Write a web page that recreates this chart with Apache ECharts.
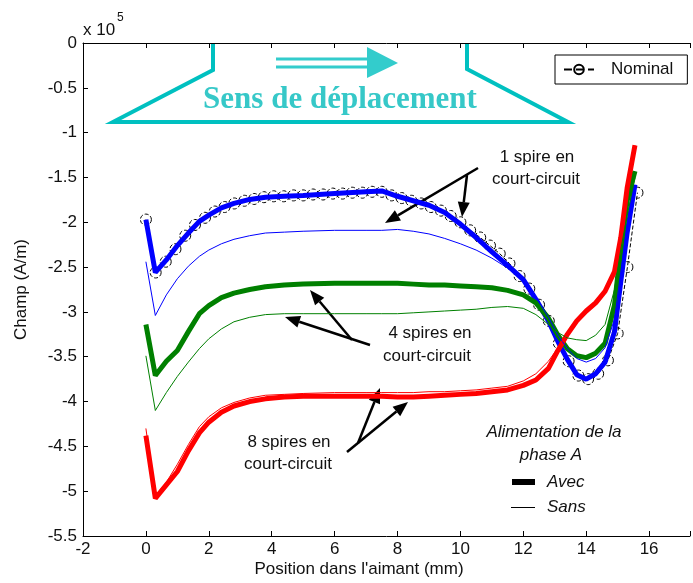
<!DOCTYPE html>
<html>
<head>
<meta charset="utf-8">
<title>Champ - spires en court-circuit</title>
<script src="https://cdn.jsdelivr.net/npm/echarts@6/dist/echarts.min.js"></script>
<style>
    html, body { margin: 0; padding: 0; background: #fff; }
    #chart { width: 693px; height: 583px; }
</style>
</head>
<body>
<div id="chart"></div>
<script>
// positions des cercles (courbe nominale), mm
const nomX = [0, 0.31, 0.63, 0.94, 1.25, 1.56, 1.88, 2.19, 2.5, 2.81,
    3.13, 3.44, 3.75, 4.06, 4.38, 4.69, 5, 5.31, 5.63, 5.94,
    6.25, 6.56, 6.88, 7.19, 7.5, 7.81, 8.13, 8.44, 8.75, 9.06,
    9.38, 9.69, 10, 10.31, 10.63, 10.94, 11.25, 11.56, 11.88, 12.19,
    12.5, 12.81, 13.13, 13.44, 13.75, 14.06, 14.38, 14.69, 15, 15.31, 15.63];
const nomY = [-1.97, -2.56, -2.44, -2.30, -2.15, -2.03, -1.95, -1.88, -1.83, -1.79,
    -1.76, -1.74, -1.72, -1.71, -1.71, -1.70, -1.70, -1.69, -1.69, -1.68,
    -1.68, -1.67, -1.67, -1.66, -1.66, -1.70, -1.73, -1.76, -1.79, -1.83,
    -1.87, -1.93, -2.00, -2.09, -2.17, -2.26, -2.35, -2.46, -2.60, -2.74,
    -2.92, -3.10, -3.35, -3.55, -3.71, -3.75, -3.69, -3.54, -3.24, -2.50, -1.67];

// positions pour les courbes avec / sans alimentation
const lineX = [0, 0.3, 0.65, 1.0, 1.35, 1.7, 2.0, 2.4, 2.8, 3.3,
    3.8, 4.4, 5.0, 6.0, 7.0, 7.5, 8.0, 8.5, 9.0, 9.5,
    10.0, 10.5, 11.0, 11.5, 12.0, 12.4, 12.8, 13.1, 13.4, 13.7,
    14.0, 14.3, 14.6, 14.9, 15.1, 15.3, 15.55];

// 1 spire en court-circuit
const avec1 = [-1.97, -2.56, -2.42, -2.26, -2.12, -1.99, -1.92, -1.84, -1.79, -1.745,
    -1.72, -1.71, -1.70, -1.68, -1.66, -1.65, -1.71, -1.76, -1.81, -1.89,
    -2.02, -2.17, -2.33, -2.48, -2.64, -2.86, -3.10, -3.33, -3.53, -3.70,
    -3.75, -3.69, -3.56, -3.22, -2.66, -2.12, -1.58];
const sans1 = [-2.44, -3.04, -2.81, -2.63, -2.49, -2.38, -2.31, -2.24, -2.19, -2.15,
    -2.12, -2.11, -2.10, -2.09, -2.09, -2.09, -2.08, -2.10, -2.13, -2.18,
    -2.24, -2.31, -2.40, -2.51, -2.65, -2.84, -3.06, -3.26, -3.41, -3.52,
    -3.56, -3.52, -3.40, -3.08, -2.55, -2.05, -1.62];
// 4 spires en court-circuit
const avec4 = [-3.14, -3.71, -3.55, -3.43, -3.22, -3.02, -2.93, -2.84, -2.79, -2.75,
    -2.72, -2.70, -2.69, -2.68, -2.68, -2.68, -2.68, -2.69, -2.70, -2.70,
    -2.71, -2.72, -2.73, -2.76, -2.81, -2.90, -3.07, -3.26, -3.41, -3.49,
    -3.51, -3.46, -3.35, -2.92, -2.29, -1.76, -1.43];
const sans4 = [-3.49, -4.10, -3.90, -3.72, -3.56, -3.41, -3.30, -3.19, -3.11, -3.06,
    -3.03, -3.02, -3.02, -3.02, -3.02, -3.02, -3.02, -3.01, -3.00, -2.99,
    -2.98, -2.97, -2.95, -2.94, -2.96, -3.03, -3.14, -3.23, -3.29, -3.31,
    -3.32, -3.26, -3.14, -2.75, -2.30, -1.93, -1.50];
// 8 spires en court-circuit
const avec8 = [-4.38, -5.08, -4.93, -4.78, -4.55, -4.35, -4.23, -4.12, -4.05, -4.00,
    -3.97, -3.95, -3.94, -3.94, -3.94, -3.94, -3.95, -3.95, -3.94, -3.93,
    -3.92, -3.91, -3.89, -3.87, -3.82, -3.76, -3.63, -3.43, -3.25, -3.10,
    -2.99, -2.90, -2.77, -2.55, -2.17, -1.62, -1.14];
const sans8 = [-4.30, -5.05, -4.90, -4.70, -4.48, -4.28, -4.17, -4.07, -4.01, -3.96,
    -3.93, -3.92, -3.91, -3.90, -3.90, -3.90, -3.90, -3.90, -3.89, -3.89,
    -3.88, -3.87, -3.85, -3.83, -3.77, -3.69, -3.55, -3.40, -3.24, -3.10,
    -2.99, -2.90, -2.77, -2.55, -2.17, -1.62, -1.14];

const FONT = 'Liberation Sans, Arial, sans-serif';
const CYAN = '#00C0C0';

function pairs(xs, ys) {
    return xs.map((x, i) => [x, ys[i]]);
}

// fleche noire : trait + pointe pleine
function arrow(x1, y1, x2, y2) {
    const len = Math.hypot(x2 - x1, y2 - y1);
    const ux = (x2 - x1) / len, uy = (y2 - y1) / len;
    const hl = 15, hw = 6;
    const bx = x2 - ux * hl, by = y2 - uy * hl;
    return [
        { type: 'line', shape: { x1: x1, y1: y1, x2: bx, y2: by }, style: { stroke: '#000', lineWidth: 2.5 } },
        { type: 'polygon', shape: { points: [[x2, y2], [bx - uy * hw, by + ux * hw], [bx + uy * hw, by - ux * hw]] }, style: { fill: '#000' } }
    ];
}

function label(x, y, text, extra) {
    return {
        type: 'text', x: x, y: y,
        style: Object.assign({ text: text, font: '17px ' + FONT, fill: '#111', align: 'center', verticalAlign: 'middle' }, extra || {})
    };
}

function thick(name, color, ys) {
    return { name: name, type: 'line', data: pairs(lineX, ys), symbol: 'none', z: 3,
        lineStyle: { color: color, width: 5 }, itemStyle: { color: color } };
}
function thin(name, color, ys) {
    return { name: name, type: 'line', data: pairs(lineX, ys), symbol: 'none', z: 4,
        lineStyle: { color: color, width: 1 }, itemStyle: { color: color } };
}

var chart = echarts.init(document.getElementById('chart'));

var graphics = [
    // forme "sens de deplacement"
    { type: 'polyline', shape: { points: [[213, 43], [213, 70], [113, 122], [568, 122], [467, 69], [467, 43]] },
      style: { stroke: CYAN, lineWidth: 4, fill: null, lineJoin: 'miter' } },
    { type: 'line', shape: { x1: 276, y1: 59, x2: 370, y2: 59 }, style: { stroke: '#33CCCC', lineWidth: 3 } },
    { type: 'line', shape: { x1: 276, y1: 67, x2: 370, y2: 67 }, style: { stroke: '#33CCCC', lineWidth: 3 } },
    { type: 'polygon', shape: { points: [[367, 47], [398, 63], [367, 78]] }, style: { fill: '#33CCCC' } },
    { type: 'text', x: 340, y: 100,
      style: { text: 'Sens de déplacement', font: 'bold 31px Liberation Serif, Times New Roman, serif',
               fill: '#36C8C8', align: 'center', verticalAlign: 'middle' } },
    // x 10^5
    { type: 'text', x: 83, y: 30, style: { text: 'x 10', font: '17px ' + FONT, fill: '#111', verticalAlign: 'middle' } },
    { type: 'text', x: 117, y: 18, style: { text: '5', font: '12px ' + FONT, fill: '#111', verticalAlign: 'middle' } },
    // titre de l'axe x
    label(359, 569, "Position dans l'aimant (mm)"),
    // textes
    label(537, 157, '1 spire en'),
    label(536, 179, 'court-circuit'),
    label(430, 333, '4 spires en'),
    label(427, 356, 'court-circuit'),
    label(289, 442, '8 spires en'),
    label(288, 464, 'court-circuit'),
    // legende alimentation
    label(554, 432, 'Alimentation de la', { font: 'italic 17px ' + FONT }),
    label(551, 455, 'phase A', { font: 'italic 17px ' + FONT }),
    { type: 'rect', shape: { x: 512, y: 479, width: 23, height: 6 }, style: { fill: '#000' } },
    { type: 'line', shape: { x1: 511, y1: 507.5, x2: 535, y2: 507.5 }, style: { stroke: '#000', lineWidth: 1 } },
    label(547, 482, 'Avec', { font: 'italic 17px ' + FONT, align: 'left' }),
    label(547, 507, 'Sans', { font: 'italic 17px ' + FONT, align: 'left' })
]
    .concat(arrow(478, 168, 385, 223))
    .concat(arrow(467, 175, 462, 217))
    .concat(arrow(352, 340, 310, 290))
    .concat(arrow(370, 345, 285, 317))
    .concat(arrow(358, 443, 380, 388))
    .concat(arrow(347, 452, 408, 402));

var xCommon = {
    type: 'value', min: -2, max: 17.3, interval: 2,
    axisLine: { onZero: false, lineStyle: { color: '#000', width: 1 } },
    axisTick: { inside: true, length: 5, lineStyle: { color: '#000' } },
    splitLine: { show: false }
};

var option = {
    animation: false,
    backgroundColor: '#fff',
    grid: { left: 83, right: 0, top: 43, bottom: 47 },
    legend: {
        data: ['Nominal'],
        left: 555, top: 55,
        padding: [6, 14, 6, 8],
        itemWidth: 30, itemHeight: 12,
        borderColor: '#000', borderWidth: 1,
        backgroundColor: '#fff',
        textStyle: { fontFamily: FONT, fontSize: 17, color: '#111', padding: [0, 0, 0, 12] }
    },
    xAxis: [
        Object.assign({}, xCommon, {
            position: 'bottom',
            axisLabel: { fontFamily: FONT, fontSize: 17, color: '#111', margin: 5,
                formatter: function (v) { return (Math.abs(v % 2) < 1e-9) ? String(v) : ''; } }
        }),
        Object.assign({}, xCommon, { position: 'top', axisLabel: { show: false } })
    ],
    yAxis: {
        type: 'value', min: -5.5, max: 0, interval: 0.5,
        name: 'Champ (A/m)', nameLocation: 'middle', nameGap: 53, nameRotate: 90,
        nameTextStyle: { fontFamily: FONT, fontSize: 17, color: '#111' },
        axisLine: { show: true, onZero: false, lineStyle: { color: '#000', width: 1 } },
        axisTick: { show: true, inside: true, length: 5, lineStyle: { color: '#000' } },
        axisLabel: { fontFamily: FONT, fontSize: 17, color: '#111', margin: 6 },
        splitLine: { show: false }
    },
    series: [
        {
            name: 'Nominal', type: 'line', data: pairs(nomX, nomY), z: 2,
            symbol: 'circle', symbolSize: 11,
            lineStyle: { color: '#000', width: 1, type: 'dashed' },
            itemStyle: { color: 'rgba(255,255,255,0)', borderColor: '#000', borderWidth: 1, borderType: [4, 2] }
        },
        thick('1 spire avec', '#0000FF', avec1),
        thin('1 spire sans', '#0000FF', sans1),
        thick('4 spires avec', '#008000', avec4),
        thin('4 spires sans', '#008000', sans4),
        thick('8 spires avec', '#FF0000', avec8),
        thin('8 spires sans', '#FF0000', sans8)
    ],
    graphic: graphics
};

chart.setOption(option);
</script>
</body>
</html>
